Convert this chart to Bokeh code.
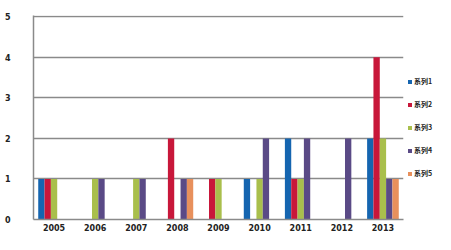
from bokeh.plotting import figure
from bokeh.models import ColumnDataSource, FactorRange, Legend, LegendItem, Range1d
from bokeh.transform import dodge
from bokeh.embed import file_html
from bokeh.resources import INLINE

years = ["2005", "2006", "2007", "2008", "2009", "2010", "2011", "2012", "2013"]
series_names = ["系列1", "系列2", "系列3", "系列4", "系列5"]
s1 = [1, 0, 0, 0, 0, 1, 2, 0, 2]
s2 = [1, 0, 0, 2, 1, 0, 1, 0, 4]
s3 = [1, 1, 1, 0, 1, 1, 1, 0, 2]
s4 = [0, 1, 1, 1, 0, 2, 2, 2, 1]
s5 = [0, 0, 0, 1, 0, 0, 0, 0, 1]
colors = ["#1565b0", "#c8173a", "#a9bf4c", "#5a4a86", "#e8905c"]

source = ColumnDataSource(dict(year=years, s1=s1, s2=s2, s3=s3, s4=s4, s5=s5))

p = figure(frame_width=370, frame_height=204, x_range=FactorRange(*years), y_range=Range1d(0, 5.03),
           output_backend="svg", toolbar_location=None,
           min_border_left=33, min_border_right=9, min_border_top=15, min_border_bottom=15)

bw = 0.154
renderers = []
for i, key in enumerate(["s1", "s2", "s3", "s4", "s5"]):
    r = p.vbar(x=dodge("year", (i - 2) * bw, range=p.x_range), top=key, width=bw,
               source=source, fill_color=colors[i], line_color=None)
    renderers.append(r)

p.outline_line_color = None
p.xgrid.grid_line_color = None
p.ygrid.grid_line_color = "#8a8a8a"
p.ygrid.grid_line_width = 1.5
p.yaxis.ticker = [0, 1, 2, 3, 4, 5]
p.yaxis.axis_line_color = "#8a8a8a"
p.yaxis.axis_line_width = 1.5
p.xaxis.axis_line_color = "#8a8a8a"
p.xaxis.axis_line_width = 1.5
for ax in (p.xaxis, p.yaxis):
    ax.major_tick_line_color = None
    ax.minor_tick_line_color = None
    ax.major_tick_out = 0
    ax.major_tick_in = 0
    ax.major_label_text_font_size = "8px"
    ax.major_label_text_font_style = "bold"
    ax.major_label_text_color = "#222222"
    ax.major_label_text_font = "DejaVu Sans"
p.yaxis.major_label_standoff = 23
p.xaxis.major_label_standoff = 4
p.x_range.range_padding = 0
p.x_range.group_padding = 0

items = [LegendItem(label=series_names[i], renderers=[renderers[i]]) for i in range(5)]
legend = Legend(items=items, location=(4, 41), padding=0, margin=0,
                glyph_width=5, glyph_height=5, label_height=10, label_width=16, spacing=13,
                label_standoff=2, label_text_font_size="7px", label_text_font_style="bold",
                label_text_font="Noto Sans CJK SC",
                label_text_color="#222222", border_line_color=None, background_fill_alpha=0)
p.add_layout(legend, "right")

open("out.html", "w").write(file_html(p, INLINE))
